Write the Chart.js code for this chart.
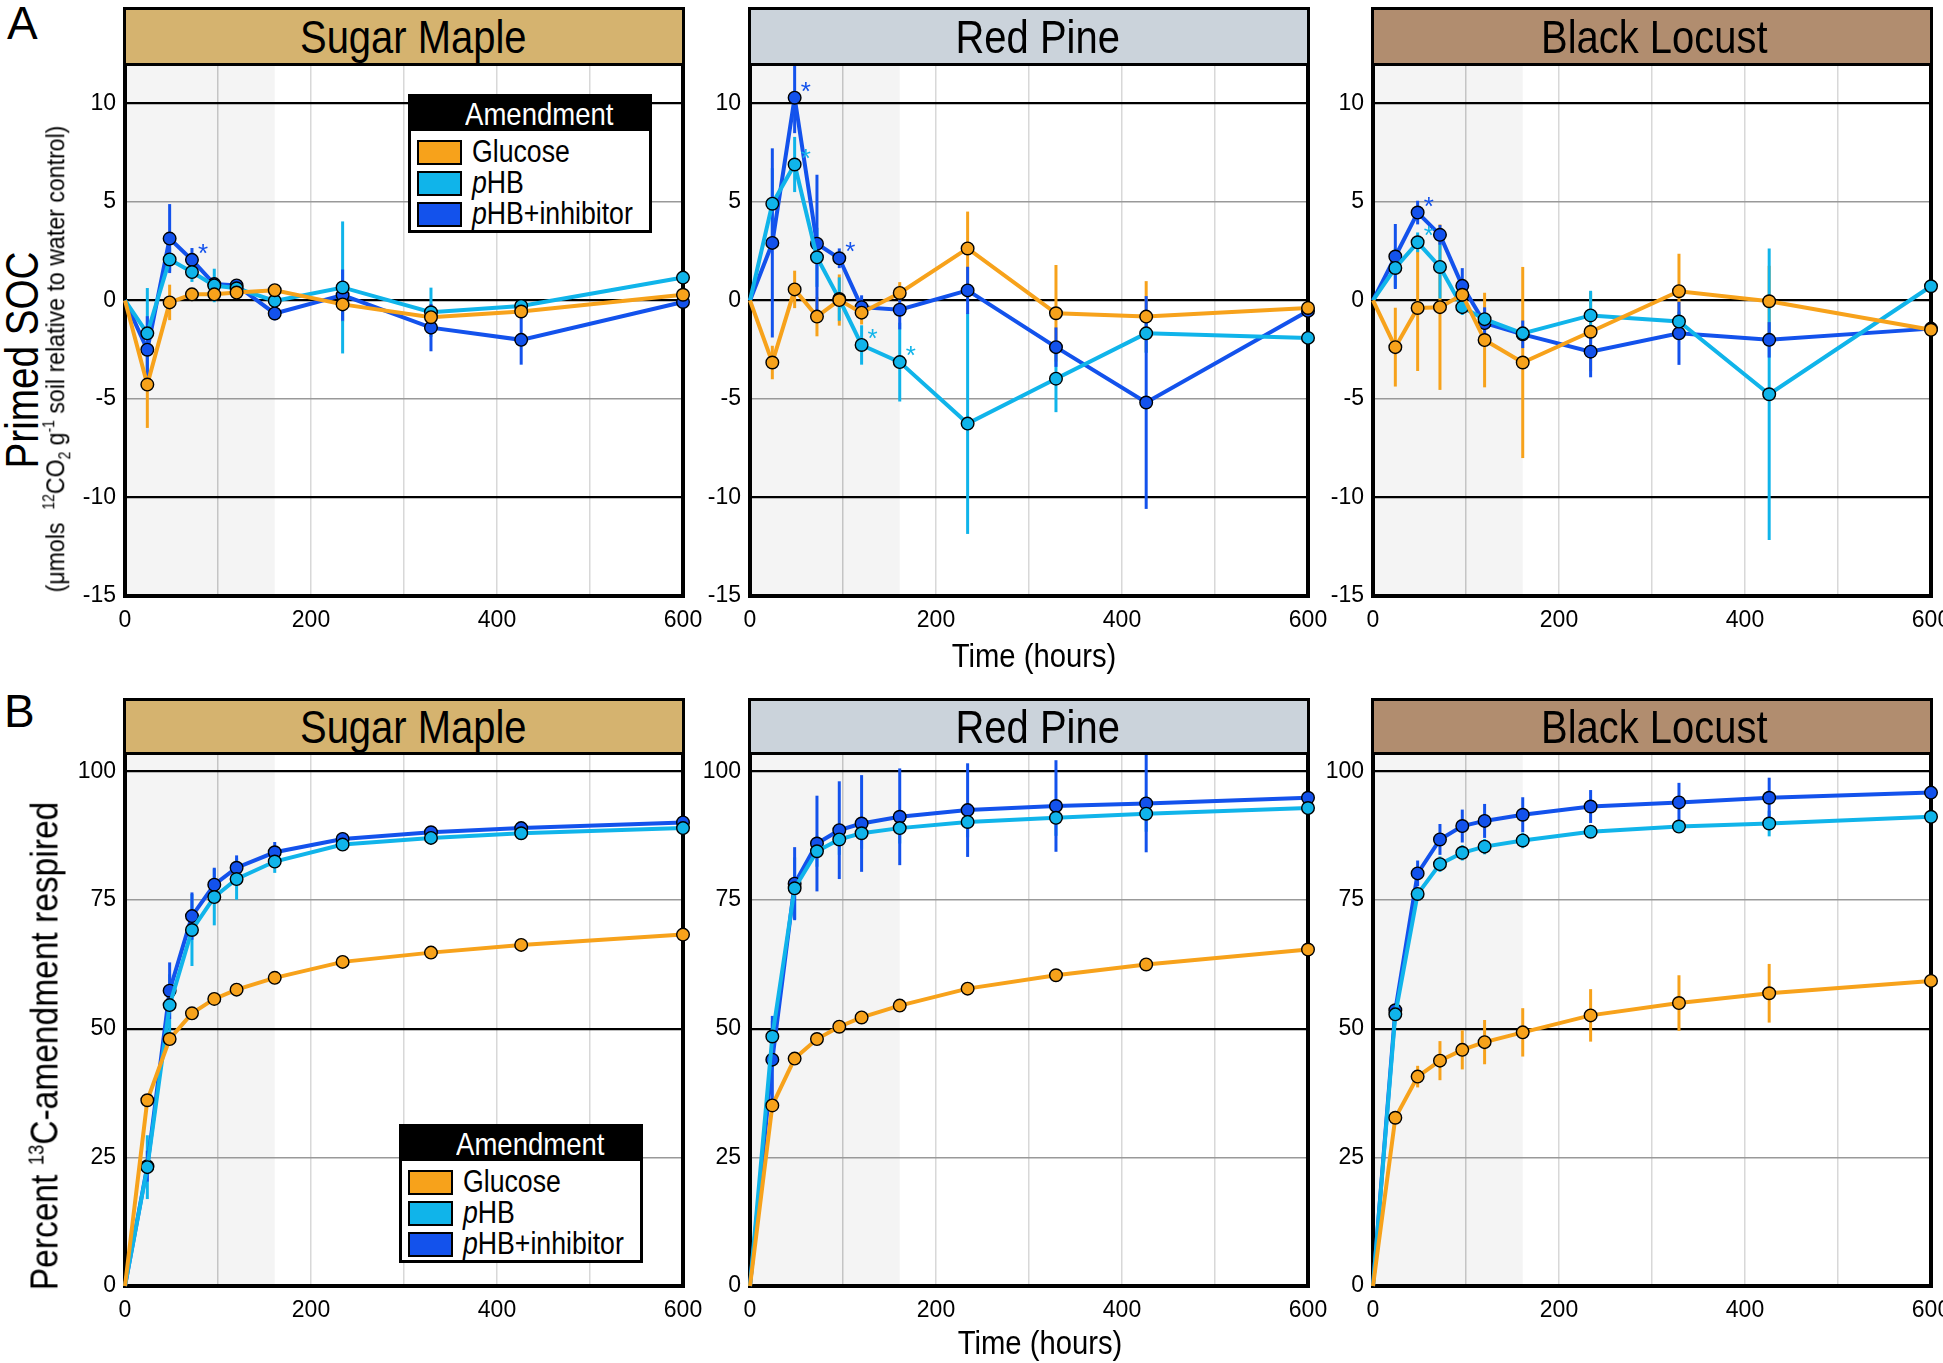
<!DOCTYPE html>
<html>
<head>
<meta charset="utf-8">
<script src="https://cdn.jsdelivr.net/npm/chart.js@4.4.1/dist/chart.umd.min.js"></script>
<style>
body { margin:0; background:#fff; }
#page { position:relative; width:1943px; height:1363px; overflow:hidden; background:#fff;
        font-family:"Liberation Sans",Arial,sans-serif; color:#000; }
canvas { position:absolute; }
.nar { display:inline-block; transform-origin:50% 50%; }
.head { position:absolute; box-sizing:border-box; border:3px solid #000; text-align:center; font-size:47px; white-space:nowrap; }
.head .nar { transform:scaleX(0.85); }
.tag { position:absolute; font-size:46px; line-height:1; }
.lbl { position:absolute; white-space:nowrap; line-height:1; }
.legend { position:absolute; box-sizing:border-box; border:3px solid #000; background:#fff; width:244px; height:139px; white-space:nowrap; }
.legend .lt { background:#000; color:#fff; height:34px; line-height:34px; text-align:center; font-size:32px; padding-left:18px; }
.legend .lt .nar { transform:scaleX(0.86); }
.legend .li { position:relative; height:31px; line-height:31px; font-size:31px; padding-left:61px; }
.legend .li .nar { transform:scaleX(0.86); transform-origin:0 50%; }
.legend .li:nth-child(2) { margin-top:5px; }
.legend .sw { position:absolute; left:6px; top:4px; width:41px; height:21px; border:2px solid #000; }
sup, sub { font-size:0.6em; }
</style>
</head>
<body>
<div id="page"></div>
<script>
// ---------------- data ----------------
const times = [0, 24, 48, 72, 96, 120, 161, 234, 329, 426, 600];
const shadeEnd = 161;
const xGrid = [0, 100, 200, 300, 400, 500, 600];
const xTickLabels = [0, 200, 400, 600];
const primedTicks = [-15, -10, -5, 0, 5, 10];
const respiredTicks = [0, 25, 50, 75, 100];

const species = ['Sugar Maple', 'Red Pine', 'Black Locust'];
const amendments = ['Glucose', 'pHB', 'pHB+inhibitor'];

// A: primed SOC
const a1Glucose = [0, -4.27, -0.1, 0.31, 0.31, 0.4, 0.52, -0.2, -0.85, -0.56, 0.29];
const a1GlucoseErr = [0, 2.2, 0.9, 0.2, 0.2, 0.2, 0.2, 0.9, 0.3, 0.4, 0.3];
const a1Phb = [0, -1.67, 2.08, 1.44, 0.76, 0.62, -0.02, 0.66, -0.6, -0.28, 1.16];
const a1PhbErr = [0, 2.3, 0.6, 0.5, 0.85, 0.3, 0.3, 3.35, 1.25, 0.3, 1.1];
const a1Inh = [0, -2.5, 3.14, 2.06, 0.83, 0.76, -0.66, 0.27, -1.38, -2.0, -0.08];
const a1InhErr = [0, 1.7, 1.75, 0.6, 0.3, 0.2, 0.35, 1.3, 1.2, 1.26, 1.85];

const a2Glucose = [0, -3.15, 0.56, -0.82, 0.02, -0.62, 0.38, 2.64, -0.65, -0.82, -0.38];
const a2GlucoseErr = [0, 0.85, 0.95, 1.0, 1.3, 0.6, 0.55, 1.87, 2.45, 1.8, 1.8];
const a2Phb = [0, 4.91, 6.9, 2.19, 0.07, -2.26, -3.13, -6.25, -3.97, -1.67, -1.9];
const a2PhbErr = [0, 1.8, 1.4, 1.5, 1.1, 1.0, 2.0, 5.6, 1.7, 1.0, 1.5];
const a2Inh = [0, 2.92, 10.29, 2.88, 2.14, -0.34, -0.47, 0.51, -2.37, -5.18, -0.53];
const a2InhErr = [0, 4.8, 1.8, 3.5, 0.5, 0.6, 1.0, 1.2, 1.0, 5.4, 3.0];

const a3Glucose = [0, -2.37, -0.38, -0.34, 0.29, -2.01, -3.15, -1.59, 0.47, -0.04, -1.49];
const a3GlucoseErr = [0, 2.0, 3.2, 4.2, 0.4, 2.4, 4.85, 2.0, 1.9, 1.8, 3.95];
const a3Phb = [0, 1.65, 2.95, 1.7, -0.34, -0.95, -1.67, -0.76, -1.07, -4.76, 0.72];
const a3PhbErr = [0, 1.0, 0.5, 1.6, 0.4, 0.3, 0.3, 1.25, 0.5, 7.4, 1.8];
const a3Inh = [0, 2.23, 4.46, 3.33, 0.74, -1.15, -1.72, -2.6, -1.67, -2.0, -1.43];
const a3InhErr = [0, 1.65, 0.6, 0.5, 0.9, 0.8, 0.7, 1.3, 1.6, 0.9, 4.0];

// significance stars: point indices per series [glucose, pHB, inhibitor]
const a1Stars = [[], [], [3]];
const a2Stars = [[], [2, 5, 6], [2, 4]];
const a3Stars = [[], [2], [2]];

// B: percent 13C-amendment respired
const b1Glucose = [0, 36.1, 48.0, 53.0, 55.8, 57.6, 59.9, 63.0, 64.8, 66.3, 68.3];
const b1GlucoseErr = [0, 1, 1, 0.8, 0.8, 0.8, 0.8, 0.8, 0.8, 0.8, 0.8];
const b1Phb = [0, 23.1, 54.6, 69.2, 75.6, 79.1, 82.5, 85.8, 87.1, 88.0, 89.0];
const b1PhbErr = [0, 6.2, 6, 7, 5.5, 4, 2.2, 1.2, 1.2, 1.2, 1.5];
const b1Inh = [0, 23.3, 57.4, 71.9, 78.0, 81.3, 84.3, 86.9, 88.2, 89.0, 90.1];
const b1InhErr = [0, 3, 5.5, 4.6, 3.3, 2.4, 2, 1.2, 1.2, 1.2, 1];

const b2Glucose = [0, 35.1, 44.2, 48.0, 50.4, 52.2, 54.5, 57.8, 60.4, 62.5, 65.4];
const b2GlucoseErr = [0, 1, 0.8, 0.8, 0.8, 0.8, 0.8, 0.8, 0.8, 0.8, 0.8];
const b2Phb = [0, 48.5, 77.3, 84.5, 86.8, 88.0, 89.0, 90.2, 91.0, 91.8, 92.9];
const b2PhbErr = [0, 3, 6, 3, 3, 3, 3, 3, 3.5, 3.5, 3.7];
const b2Inh = [0, 44.0, 78.2, 86.0, 88.6, 89.9, 91.2, 92.5, 93.3, 93.8, 94.9];
const b2InhErr = [0, 8.5, 7.1, 9.3, 9.5, 9.4, 9.4, 9.1, 8.9, 9.5, 1.5];

const b3Glucose = [0, 32.7, 40.7, 43.8, 45.9, 47.4, 49.3, 52.6, 55.0, 56.9, 59.3];
const b3GlucoseErr = [0, 1, 2.1, 3.8, 3.8, 4.3, 4.7, 5.1, 5.4, 5.7, 6.5];
const b3Phb = [0, 52.8, 76.2, 82.0, 84.2, 85.4, 86.6, 88.3, 89.3, 89.9, 91.2];
const b3PhbErr = [0, 1, 1, 1.5, 1.5, 1.5, 1.5, 1, 1, 2.5, 2.7];
const b3Inh = [0, 53.6, 80.2, 86.8, 89.4, 90.4, 91.6, 93.2, 94.0, 94.9, 95.9];
const b3InhErr = [0, 1, 2.5, 3, 3.2, 3.3, 3.4, 3.2, 3.8, 3.9, 4.0];

// ---------------- look ----------------
const colors = ['#F7A21B', '#10B4EA', '#1352EC'];
const headColors = ['#D5B36F', '#CBD3DB', '#B18D6F'];
const headShift = [18, 18, 4];
const cols = [125, 750, 1373];
const plotW = 558;
const rows = { A: { head: 7, top: 64, bottom: 596 }, B: { head: 698, top: 753, bottom: 1286 } };
const yAxisW = 70, xAxisH = 50, padRight = 30;

const page = document.getElementById('page');

function addDiv(cls, html, style) {
  const d = document.createElement('div');
  d.className = cls;
  d.innerHTML = html;
  Object.assign(d.style, style);
  page.appendChild(d);
  return d;
}

// narrow text label centred on (x, y); rotated when vertical
function addLabel(html, x, y, size, squeeze, vertical) {
  const d = addDiv('lbl', html, { left: x + 'px', top: y + 'px', fontSize: size + 'px' });
  d.style.transform = 'translate(-50%,-50%)' + (vertical ? ' rotate(-90deg)' : '') + ' scaleX(' + squeeze + ')';
  return d;
}

// shading, error bars, frame, stars
const decor = {
  id: 'decor',
  beforeDraw(chart) {
    const { ctx, chartArea: a, scales: { x } } = chart;
    ctx.save();
    ctx.fillStyle = '#F4F4F4';
    ctx.fillRect(a.left, a.top, x.getPixelForValue(shadeEnd) - a.left, a.height);
    ctx.restore();
  },
  beforeDatasetsDraw(chart) {
    const { ctx, chartArea: a, scales: { x, y } } = chart;
    ctx.save();
    ctx.beginPath(); ctx.rect(a.left, a.top, a.width, a.height); ctx.clip();
    ctx.lineWidth = 3;
    chart.data.datasets.forEach(ds => {
      ctx.strokeStyle = ds.borderColor;
      ds.err.forEach((e, j) => {
        if (!e) return;
        const px = x.getPixelForValue(times[j]);
        ctx.beginPath();
        ctx.moveTo(px, y.getPixelForValue(ds.vals[j] - e));
        ctx.lineTo(px, y.getPixelForValue(ds.vals[j] + e));
        ctx.stroke();
      });
    });
    ctx.restore();
    ctx.save();
    ctx.strokeStyle = '#000';
    ctx.lineWidth = 4;
    ctx.strokeRect(a.left, a.top, a.width, a.height);
    ctx.restore();
  },
  afterDatasetsDraw(chart) {
    const { ctx, scales: { x, y } } = chart;
    ctx.save();
    ctx.font = '26px "Liberation Sans", Arial';
    ctx.textAlign = 'left';
    ctx.textBaseline = 'middle';
    chart.data.datasets.forEach(ds => {
      ctx.fillStyle = ds.borderColor;
      (ds.stars || []).forEach(j => {
        ctx.fillText('*', x.getPixelForValue(times[j]) + 6, y.getPixelForValue(ds.vals[j]) - 5);
      });
    });
    ctx.restore();
  }
};

function makePanel(rowKey, col, series, errs, stars, yTicks, yMin, yMax, darkLines, greyLines) {
  const r = rows[rowKey];
  const left = cols[col];
  const plotH = r.bottom - r.top;

  addDiv('head', '<span class="nar">' + species[col] + '</span>', {
    left: (left - 2) + 'px', top: r.head + 'px', width: (plotW + 4) + 'px',
    height: (r.top - r.head + 2) + 'px', lineHeight: (r.top - r.head - 4) + 'px',
    paddingLeft: headShift[col] + 'px', background: headColors[col]
  });

  const cv = document.createElement('canvas');
  cv.width = plotW + yAxisW + padRight;
  cv.height = plotH + xAxisH;
  cv.style.left = (left - yAxisW) + 'px';
  cv.style.top = r.top + 'px';
  page.insertBefore(cv, page.firstChild);

  const datasets = series.map((vals, i) => ({
    label: amendments[i],
    data: times.map((t, j) => ({ x: t, y: vals[j] })),
    vals: vals,
    err: errs[i],
    stars: stars ? stars[i] : [],
    borderColor: colors[i],
    backgroundColor: colors[i],
    borderWidth: 4,
    pointRadius: ctx => ctx.dataIndex === 0 ? 0 : 6.3,
    pointBackgroundColor: colors[i],
    pointBorderColor: '#000',
    pointBorderWidth: 1.4,
    clip: false,
    tension: 0
  }));

  new Chart(cv.getContext('2d'), {
    type: 'line',
    data: { datasets },
    plugins: [decor],
    options: {
      responsive: false,
      animation: false,
      devicePixelRatio: 1,
      layout: { autoPadding: false, padding: { left: 0, right: padRight, top: 0, bottom: 0 } },
      plugins: { legend: { display: false }, tooltip: { enabled: false } },
      scales: {
        x: {
          type: 'linear', min: 0, max: 600,
          afterBuildTicks: s => { s.ticks = xGrid.map(v => ({ value: v })); },
          afterFit: s => { s.height = xAxisH; s.paddingLeft = 0; s.paddingRight = 0; },
          ticks: {
            autoSkip: false, maxRotation: 0, padding: 11, color: '#000',
            font: { family: '"Liberation Sans", Arial', size: 23 },
            callback: v => xTickLabels.includes(v) ? String(v) : ''
          },
          grid: {
            drawTicks: false, lineWidth: 1.5,
            color: c => (c.tick && c.tick.value > 0 && c.tick.value < 600) ? (c.tick.value < shadeEnd ? '#C4C4C4' : '#D8D8D8') : 'rgba(0,0,0,0)'
          },
          border: { display: false }
        },
        y: {
          type: 'linear', min: yMin, max: yMax,
          afterBuildTicks: s => { s.ticks = yTicks.map(v => ({ value: v })); },
          afterFit: s => { s.width = yAxisW; s.paddingTop = 0; s.paddingBottom = 0; },
          ticks: {
            padding: 9, color: '#000',
            font: { family: '"Liberation Sans", Arial', size: 23 },
            callback: v => String(v)
          },
          grid: {
            drawTicks: false,
            lineWidth: c => c.tick && darkLines.includes(c.tick.value) ? 2.2 : 1.6,
            color: c => !c.tick ? 'rgba(0,0,0,0)' : darkLines.includes(c.tick.value) ? '#000' : greyLines.includes(c.tick.value) ? '#999' : 'rgba(0,0,0,0)'
          },
          border: { display: false }
        }
      }
    }
  });
}

const primedDark = [-10, 0, 10], primedGrey = [-5, 5];
const respDark = [50, 100], respGrey = [25, 75];

makePanel('A', 0, [a1Glucose, a1Phb, a1Inh], [a1GlucoseErr, a1PhbErr, a1InhErr], a1Stars, primedTicks, -15, 12, primedDark, primedGrey);
makePanel('A', 1, [a2Glucose, a2Phb, a2Inh], [a2GlucoseErr, a2PhbErr, a2InhErr], a2Stars, primedTicks, -15, 12, primedDark, primedGrey);
makePanel('A', 2, [a3Glucose, a3Phb, a3Inh], [a3GlucoseErr, a3PhbErr, a3InhErr], a3Stars, primedTicks, -15, 12, primedDark, primedGrey);
makePanel('B', 0, [b1Glucose, b1Phb, b1Inh], [b1GlucoseErr, b1PhbErr, b1InhErr], null, respiredTicks, 0, 103.6, respDark, respGrey);
makePanel('B', 1, [b2Glucose, b2Phb, b2Inh], [b2GlucoseErr, b2PhbErr, b2InhErr], null, respiredTicks, 0, 103.6, respDark, respGrey);
makePanel('B', 2, [b3Glucose, b3Phb, b3Inh], [b3GlucoseErr, b3PhbErr, b3InhErr], null, respiredTicks, 0, 103.6, respDark, respGrey);

// ---------------- labels & legends ----------------
addDiv('tag', 'A', { left: '7px', top: '0px' });
addDiv('tag', 'B', { left: '4px', top: '688px' });

addLabel('Primed SOC', 22, 360, 46, 0.84, true);
addLabel('(&mu;mols&nbsp; <sup>12</sup>CO<sub>2</sub> g<sup>-1</sup> soil relative to water control)', 57, 359, 26, 0.89, true);
addLabel('Percent <sup style="font-size:0.55em">13</sup>C-amendment respired', 44, 1046, 39, 0.86, true);

addLabel('Time (hours)', 1034, 655, 34, 0.86, false);
addLabel('Time (hours)', 1040, 1342, 34, 0.86, false);

function makeLegend(left, top) {
  const names = ['Glucose', '<i>p</i>HB', '<i>p</i>HB+inhibitor'];
  let html = '<div class="lt"><span class="nar">Amendment</span></div>';
  names.forEach((n, i) => {
    html += '<div class="li"><span class="sw" style="background:' + colors[i] + '"></span><span class="nar">' + n + '</span></div>';
  });
  addDiv('legend', html, { left: left + 'px', top: top + 'px' });
}
makeLegend(408, 94);
makeLegend(399, 1124);
</script>
</body>
</html>
